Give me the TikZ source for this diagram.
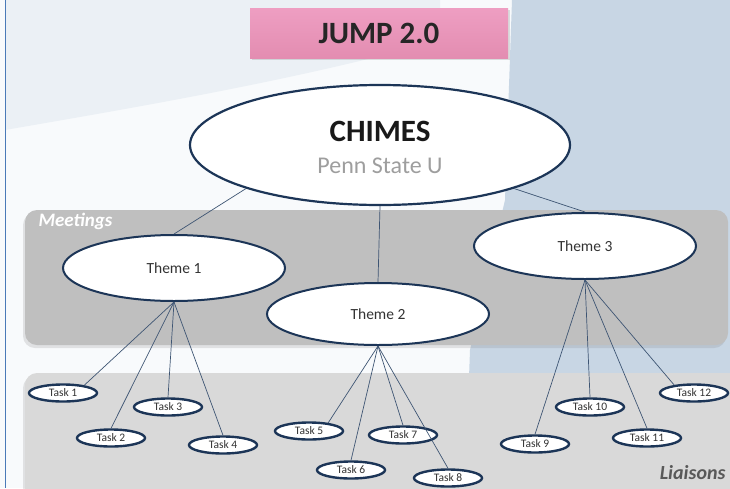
\documentclass[tikz,border=0pt]{standalone}
\usepackage{fontspec}
\setmainfont{Carlito}
\usetikzlibrary{shapes.geometric,shadows}
\definecolor{bgleft}{HTML}{F8FAFC}
\definecolor{bgtint}{HTML}{EBF0F5}
\definecolor{bgright}{HTML}{C8D6E4}
\definecolor{navy}{HTML}{1C3557}
\definecolor{linkc}{HTML}{3E5573}
\definecolor{meetc}{HTML}{BFBFBF}
\definecolor{liaisc}{HTML}{D9D9D9}
\definecolor{pinkc}{HTML}{E38DB1}
\definecolor{pinktop}{HTML}{EE9EC2}
\tikzset{
  x=1pt,y=-1pt,
  bigell/.style={ellipse,draw=navy,line width=2.2pt,fill=white,inner sep=0pt},
  themeell/.style={ellipse,draw=navy,line width=2pt,fill=white,inner sep=0pt,
    minimum width=222pt,minimum height=66pt,font=\fontsize{15.5}{17}\selectfont,text=black!80},
  taskell/.style={ellipse,draw=navy,line width=2.4pt,fill=white,inner sep=0pt,
    minimum width=68pt,minimum height=17pt,font=\fontsize{11.5}{12}\selectfont,text=black!80},
  link/.style={draw=linkc,line width=0.7pt},
  panel/.style={rounded corners=12pt,drop shadow={shadow xshift=-2pt,shadow yshift=-3pt,opacity=0.2}},
}
\begin{document}
\begin{tikzpicture}
\useasboundingbox (0,0) rectangle (730,488);
% background
\fill[bgleft] (0,0) rectangle (730,488);
\fill[bgtint] (5,0) -- (440,0) -- (440,40) .. controls (300,80) and (120,110) .. (5,130) -- cycle;
\fill[bgright] (512,0) -- (730,0) -- (730,488) -- (465,488) -- (470,350) -- (505,200) -- cycle;
\draw[color={rgb,255:red,74;green,122;blue,184},line width=0.8pt] (5,0) -- (5,488);
% panels
\fill[meetc,panel] (25,210) rectangle (728,345);
\fill[liaisc,panel] (25,373) rectangle (760,500);
\node[anchor=west,text=white,font=\fontsize{19}{20}\selectfont\bfseries\itshape] (meet) at (35,221) {Meetings};
\node[anchor=east,text=black!65,font=\fontsize{20}{22}\selectfont\bfseries\itshape] (liais) at (729,473) {Liaisons};
% title
\shade[top color=pinktop,bottom color=pinkc,drop shadow={shadow xshift=2pt,shadow yshift=-2pt,opacity=0.25}]
  (250,8) rectangle (508,58);
\node[font=\fontsize{31}{32}\selectfont\bfseries,text=black!85] (jump) at (379,33) {JUMP 2.0};
% main ellipse
\node[bigell,minimum width=380pt,minimum height=120pt] (chimes) at (380,145) {};
\node[font=\fontsize{31}{32}\selectfont\bfseries,text=black!90] (chtxt) at (380,131) {CHIMES};
\node[font=\fontsize{24}{26}\selectfont,text=black!38] (pstxt) at (380,166) {Penn State U};
% themes
\node[themeell] (t1) at (174,268) {Theme 1};
\node[themeell,minimum height=62pt] (t2) at (378,314) {Theme 2};
\node[themeell] (t3) at (585,246) {Theme 3};
% tasks
\node[taskell] (k1) at (63,393) {Task 1};
\node[taskell] (k2) at (111,438) {Task 2};
\node[taskell] (k3) at (168,407) {Task 3};
\node[taskell] (k4) at (223,445) {Task 4};
\node[taskell] (k5) at (309,431) {Task 5};
\node[taskell] (k6) at (351,470) {Task 6};
\node[taskell] (k7) at (403,435) {Task 7};
\node[taskell] (k8) at (448,478) {Task 8};
\node[taskell] (k9) at (535,444) {Task 9};
\node[taskell] (k10) at (590,407) {Task 10};
\node[taskell] (k11) at (647,438) {Task 11};
\node[taskell] (k12) at (694,393) {Task 12};
% connectors
\draw[link] (chimes.198) -- (t1.north);
\draw[link] (chimes.south) -- (t2.north);
\draw[link] (chimes.342) -- (t3.north);
\draw[link] (t1.south) -- (k1.20);
\draw[link] (t1.south) -- (k2.north);
\draw[link] (t1.south) -- (k3.north);
\draw[link] (t1.south) -- (k4.north);
\draw[link] (t2.south) -- (k5.23);
\draw[link] (t2.south) -- (k6.north);
\draw[link] (t2.south) -- (k7.north);
\draw[link] (t2.south) -- (k8.north);
\draw[link] (t3.south) -- (k9.north);
\draw[link] (t3.south) -- (k10.north);
\draw[link] (t3.south) -- (k11.north);
\draw[link] (t3.south) -- (k12.158);
\end{tikzpicture}
\end{document}
